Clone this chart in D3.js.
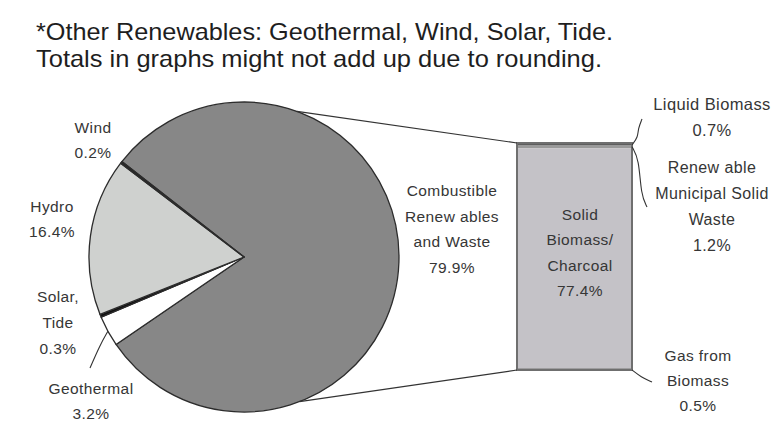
<!DOCTYPE html>
<html>
<head>
<meta charset="utf-8">
<script src="https://cdn.jsdelivr.net/npm/d3@7"></script>
<style>
  html, body { margin: 0; padding: 0; background: #fff; }
  svg { display: block; font-family: "Liberation Sans", Arial, sans-serif; }
</style>
</head>
<body>
<svg id="chart" width="775" height="434"></svg>
<script>
// Renewable supply shares (%), pie in clockwise order
const pieNames  = ["Combustible Renewables and Waste", "Geothermal", "Solar, Tide", "Hydro", "Wind"];
const pieValues = [79.9, 3.2, 0.3, 16.4, 0.2];
const pieColors = ["#878787", "#ffffff", "#111111", "#cfd1cf", "#222222"];

// Breakdown of combustible renewables and waste (%), top to bottom
const barNames  = ["Liquid Biomass", "Renewable Municipal Solid Waste", "Solid Biomass/Charcoal", "Gas from Biomass"];
const barValues = [0.7, 1.2, 77.4, 0.5];
const barColors = ["#5e5e5e", "#9a9a9a", "#c4c2c7", "#4a4a4a"];

const noteLines = [
  "*Other Renewables: Geothermal, Wind, Solar, Tide.",
  "Totals in graphs might not add up due to rounding."
];

const svg = d3.select("#chart");
const deg = Math.PI / 180;

// ---- footnote ----
svg.selectAll("text.note").data(noteLines).join("text")
  .attr("class", "note")
  .attr("x", 36)
  .attr("y", (d, i) => 40 + i * 27)
  .attr("font-size", 24)
  .attr("fill", "#1e1e1e")
  .attr("textLength", (d, i) => i === 0 ? 577 : 566)
  .attr("lengthAdjust", "spacingAndGlyphs")
  .text(d => d);

// ---- pie ----
const cx = 244, cy = 257, R = 155;
const start = 308 * deg;
const pie = d3.pie().sort(null).value(d => d).startAngle(start).endAngle(start + 2 * Math.PI);
const arcs = pie(pieValues);
const arc = d3.arc().innerRadius(0).outerRadius(R);

const gPie = svg.append("g").attr("transform", `translate(${cx},${cy})`);
gPie.selectAll("path").data(arcs).join("path")
  .attr("d", arc)
  .attr("fill", (d, i) => pieColors[i])
  .attr("stroke", "#2c2c2c")
  .attr("stroke-width", 1.3)
  .attr("stroke-linejoin", "round");

// point on pie rim at a given angle (clockwise from 12 o'clock)
const rim = (a, r = R) => [cx + r * Math.sin(a), cy - r * Math.cos(a)];

// ---- stacked bar ----
const barX = 517, barW = 115, barTop = 143, barBottom = 370;
const barTotal = d3.sum(barValues);
const y = d3.scaleLinear().domain([0, barTotal]).range([barTop, barBottom]);
let acc = 0;
const segs = barValues.map((v, i) => { const s = { i, y0: acc, y1: acc + v }; acc += v; return s; });

svg.selectAll("rect.seg").data(segs).join("rect")
  .attr("class", "seg")
  .attr("x", barX)
  .attr("width", barW)
  .attr("y", d => y(d.y0))
  .attr("height", d => y(d.y1) - y(d.y0))
  .attr("fill", d => barColors[d.i]);

svg.append("rect")
  .attr("x", barX).attr("y", barTop)
  .attr("width", barW).attr("height", barBottom - barTop)
  .attr("fill", "none").attr("stroke", "#6f6f6f").attr("stroke-width", 2);

// ---- connector lines pie -> bar ----
const pTop = rim(20 * deg), pBot = rim(159 * deg);
svg.append("line")
  .attr("x1", pTop[0]).attr("y1", pTop[1]).attr("x2", barX).attr("y2", barTop)
  .attr("stroke", "#333").attr("stroke-width", 1.2);
svg.append("line")
  .attr("x1", pBot[0]).attr("y1", pBot[1]).attr("x2", barX).attr("y2", barBottom)
  .attr("stroke", "#333").attr("stroke-width", 1.2);

// ---- leader lines ----
const leader = (pts) => svg.append("path")
  .attr("d", d3.line().curve(d3.curveBasis)(pts))
  .attr("fill", "none").attr("stroke", "#333").attr("stroke-width", 1.1);

const geoMid = (arcs[1].startAngle + arcs[1].endAngle) / 2;
const gp = rim(geoMid);
leader([gp, [gp[0] - 8, gp[1] + 14], [90, 368]]);

const barRight = barX + barW;
leader([[barRight, y(barValues[0] / 2) + 1], [barRight + 6, y(0) - 6], [barRight + 6, y(0) - 14], [barRight + 10, 119]]);
leader([[barRight, y(barValues[0] + barValues[1] / 2)], [barRight + 7, y(barValues[0]) + 14], [barRight + 9, 195], [barRight + 15, 207]]);
leader([[barRight, y(barTotal)], [barRight + 9, y(barTotal) + 7], [barRight + 20, 382]]);

// ---- labels ----
const label = (x, y0, lines, step = 24.5, size = 15.5) => {
  const t = svg.append("text")
    .attr("text-anchor", "middle")
    .attr("font-size", size)
    .attr("letter-spacing", 0.4)
    .attr("fill", "#363636");
  lines.forEach((s, i) => t.append("tspan").attr("x", x).attr("y", y0 + i * step).text(s));
};
const pct = v => v.toFixed(1) + "%";

label(93, 133, ["Wind", pct(pieValues[4])]);
label(52, 212, ["Hydro", pct(pieValues[3])]);
label(58, 302, ["Solar,", "Tide", pct(pieValues[2])], 26);
label(91, 394, ["Geothermal", pct(pieValues[1])]);
label(452, 196, ["Combustible", "Renew ables", "and Waste", pct(pieValues[0])], 25.5);

label(580, 220, ["Solid", "Biomass/", "Charcoal", pct(barValues[2])], 25.3);
label(712, 110, ["Liquid Biomass", pct(barValues[0])], 26, 16.5);
label(712, 173, ["Renew able", "Municipal Solid", "Waste", pct(barValues[1])], 26, 16);
label(698, 361, ["Gas from", "Biomass", pct(barValues[3])], 25);
</script>
</body>
</html>
